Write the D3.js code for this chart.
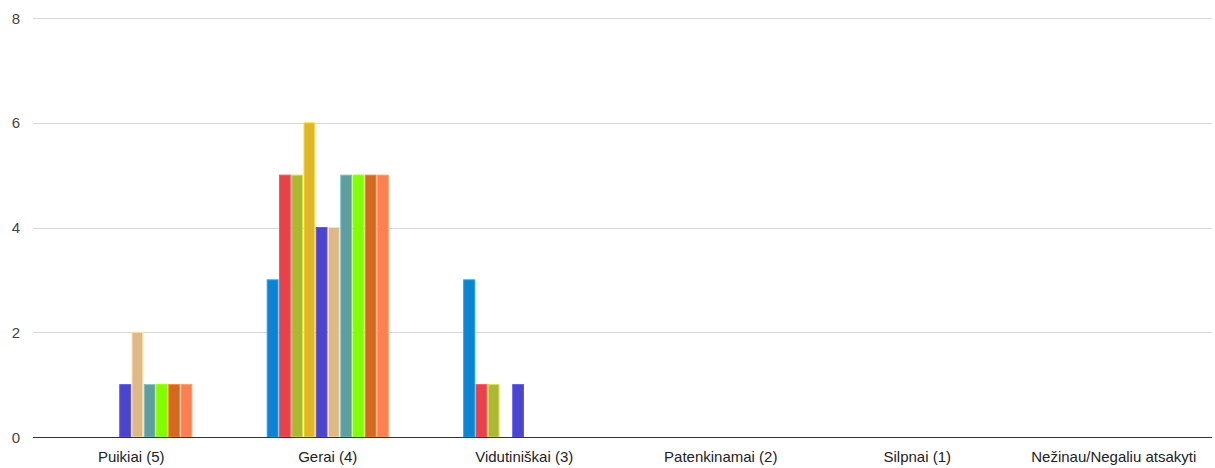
<!DOCTYPE html>
<html><head><meta charset="utf-8">
<script src="https://cdn.jsdelivr.net/npm/d3@7"></script>
<style>body{margin:0;background:#fff;}svg{display:block;font-family:"Liberation Sans",Arial,sans-serif;}</style>
</head><body>
<svg id="c" width="1215" height="468"></svg>
<script>
const categories = ["Puikiai (5)", "Gerai (4)", "Vidutiniškai (3)", "Patenkinamai (2)", "Silpnai (1)", "Nežinau/Negaliu atsakyti"];
const seriesColors = ["#0b84d4", "#e8414a", "#aab835", "#dfb62a", "#4b44cc", "#deb887", "#5f9ea0", "#7fff00", "#d2691e", "#ff7f50"];
const s1 = [0, 3, 3, 0, 0, 0];
const s2 = [0, 5, 1, 0, 0, 0];
const s3 = [0, 5, 1, 0, 0, 0];
const s4 = [0, 6, 0, 0, 0, 0];
const s5 = [1, 4, 1, 0, 0, 0];
const s6 = [2, 4, 0, 0, 0, 0];
const s7 = [1, 5, 0, 0, 0, 0];
const s8 = [1, 5, 0, 0, 0, 0];
const s9 = [1, 5, 0, 0, 0, 0];
const s10 = [1, 5, 0, 0, 0, 0];
const yTicks = [0, 2, 4, 6, 8];
const series = [s1, s2, s3, s4, s5, s6, s7, s8, s9, s10];

const svg = d3.select("#c");
const mLeft = 33, mRight = 1212, mTop = 18, mBottom = 437;
const x = d3.scaleBand().domain(categories).range([mLeft, mRight]).paddingInner(0).paddingOuter(0);
const y = d3.scaleLinear().domain([0, 8]).range([mBottom, mTop]);
const groupW = x.bandwidth() * 0.616;
const xs = d3.scaleBand().domain(d3.range(series.length)).range([0, groupW]).paddingInner(0.12).paddingOuter(0);

// gridlines
svg.append("g").selectAll("line").data(yTicks.filter(d => d > 0)).join("line")
  .attr("x1", mLeft).attr("x2", mRight)
  .attr("y1", d => Math.round(y(d)) + 0.5).attr("y2", d => Math.round(y(d)) + 0.5)
  .attr("stroke", "#d9d9d9").attr("stroke-width", 1);

// y labels
svg.append("g").selectAll("text").data(yTicks).join("text")
  .attr("x", 20).attr("y", d => y(d) + 5.5)
  .attr("text-anchor", "end").attr("font-size", 15).attr("fill", "#444")
  .text(d => d);

// bars
const g = svg.append("g");
series.forEach((s, i) => {
  g.append("g").selectAll("rect").data(categories.map((c, j) => ({c, v: s[j]})).filter(d => d.v > 0)).join("rect")
    .attr("x", d => x(d.c) + (x.bandwidth() - groupW) / 2 + xs(i))
    .attr("width", xs.bandwidth())
    .attr("y", d => y(d.v))
    .attr("height", d => y(0) - y(d.v))
    .attr("fill", seriesColors[i])
    .attr("stroke", d3.color(seriesColors[i]).brighter(0.6))
    .attr("stroke-width", 1);
});

// baseline
svg.append("line").attr("x1", mLeft).attr("x2", mRight)
  .attr("y1", mBottom + 0.5).attr("y2", mBottom + 0.5)
  .attr("stroke", "#333").attr("stroke-width", 1.2);

// category labels
svg.append("g").selectAll("text").data(categories).join("text")
  .attr("x", d => x(d) + x.bandwidth() / 2).attr("y", 461.5)
  .attr("text-anchor", "middle").attr("font-size", 15).attr("fill", "#222")
  .text(d => d);
</script>
</body></html>
